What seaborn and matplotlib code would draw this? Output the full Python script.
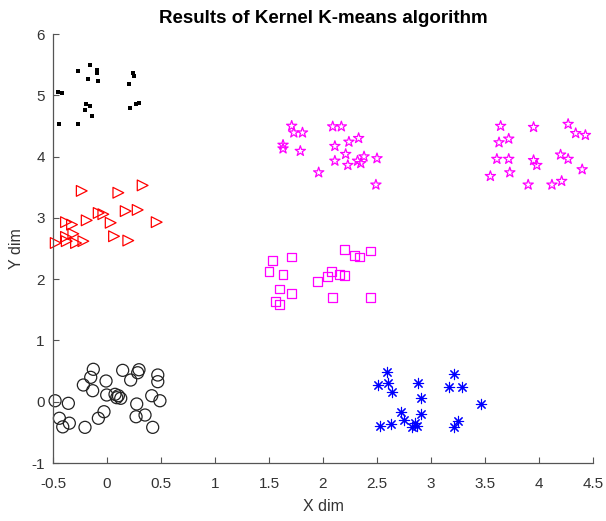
import matplotlib
matplotlib.use("Agg")
import matplotlib.pyplot as plt
import seaborn as sns
import pandas as pd

# Cluster 1: black dots
c1_x = [-0.157, -0.271, -0.09, -0.093, -0.176, -0.083, 0.238, 0.25, 0.20, -0.451,
        -0.417, -0.197, -0.157, -0.207, -0.142, 0.21, 0.266, 0.30, -0.444, -0.271]
c1_y = [5.49, 5.39, 5.41, 5.37, 5.27, 5.23, 5.37, 5.31, 5.18, 5.06,
        5.04, 4.86, 4.82, 4.76, 4.66, 4.80, 4.86, 4.88, 4.53, 4.53]

# Cluster 2: red triangles
c2_x = [-0.234, 0.105, 0.33, -0.38, -0.324, -0.188, -0.077, -0.034, 0.173, 0.284,
        0.46, 0.034, 0.065, 0.197, -0.475, -0.38, -0.373, -0.312, -0.287, -0.219]
c2_y = [3.44, 3.41, 3.53, 2.93, 2.89, 2.96, 3.08, 3.06, 3.11, 3.13,
        2.93, 2.92, 2.70, 2.63, 2.59, 2.69, 2.62, 2.74, 2.59, 2.62]

# Cluster 3: black circles
c3_x = [-0.127, -0.151, -0.219, -0.133, -0.009, 0.145, 0.296, 0.284, 0.219, 0.47,
        0.47, -0.003, 0.074, 0.105, 0.127, 0.09, 0.414, 0.49, 0.275, -0.481,
        -0.358, -0.441, -0.41, -0.349, -0.204, -0.08, -0.028, 0.269, 0.352, 0.423]
c3_y = [0.529, 0.398, 0.273, 0.18, 0.338, 0.512, 0.522, 0.473, 0.354, 0.436,
        0.327, 0.11, 0.121, 0.098, 0.056, 0.066, 0.098, 0.016, -0.037, 0.016,
        -0.026, -0.27, -0.41, -0.35, -0.418, -0.27, -0.163, -0.245, -0.217, -0.418]

# Cluster 4: magenta stars (two groups)
c4_x = [1.71, 1.73, 1.81, 1.63, 1.63, 1.79, 2.09, 2.17, 2.11, 2.24,
        2.33, 2.21, 2.11, 2.23, 2.32, 2.38, 2.35, 2.50, 1.96, 2.49,
        3.645, 3.95, 4.27, 4.34, 4.43, 3.72, 3.63, 3.61, 3.72, 3.95,
        3.98, 4.20, 4.27, 4.40, 3.55, 3.73, 3.90, 4.12, 4.21]
c4_y = [4.50, 4.39, 4.39, 4.19, 4.13, 4.09, 4.49, 4.49, 4.17, 4.24,
        4.30, 4.04, 3.93, 3.86, 3.93, 4.00, 3.89, 3.97, 3.74, 3.54,
        4.498, 4.48, 4.53, 4.38, 4.35, 4.29, 4.23, 3.96, 3.96, 3.94,
        3.86, 4.03, 3.96, 3.79, 3.68, 3.74, 3.54, 3.54, 3.60]

# Cluster 5: magenta squares
c5_x = [1.534, 1.71, 1.50, 1.63, 1.60, 1.71, 1.56, 1.60, 2.20, 2.29,
        2.34, 2.44, 2.08, 2.04, 2.15, 2.20, 1.95, 2.09, 2.44]
c5_y = [2.30, 2.36, 2.12, 2.08, 1.84, 1.77, 1.63, 1.59, 2.49, 2.38,
        2.36, 2.46, 2.12, 2.04, 2.08, 2.06, 1.96, 1.70, 1.70]

# Cluster 6: blue asterisks
c6_x = [2.595, 2.51, 2.60, 2.64, 2.88, 2.91, 2.91, 2.72, 2.75, 2.85,
        2.82, 2.87, 2.53, 2.63, 3.21, 3.17, 3.29, 3.46, 3.25, 3.21]
c6_y = [0.49, 0.27, 0.31, 0.16, 0.31, 0.055, -0.20, -0.17, -0.29, -0.35,
        -0.42, -0.40, -0.40, -0.37, 0.45, 0.245, 0.245, -0.037, -0.31, -0.42]

x_ticks = [-0.5, 0, 0.5, 1, 1.5, 2, 2.5, 3, 3.5, 4, 4.5]
x_tick_labels = ["-0.5", "0", "0.5", "1", "1.5", "2", "2.5", "3", "3.5", "4", "4.5"]
y_ticks = [-1, 0, 1, 2, 3, 4, 5, 6]
y_tick_labels = ["-1", "0", "1", "2", "3", "4", "5", "6"]

sns.set_style("white")
plt.rcParams["font.family"] = ["Liberation Sans", "DejaVu Sans"]

fig = plt.figure(figsize=(6.06, 5.21), dpi=100)
ax = fig.add_axes([0.0875, 0.1113, 0.891, 0.8234])

axis_grey = "#555555"
text_grey = "#333333"

def cluster(xs, ys, marker, color, size, filled=False, lw=0.9):
    df = pd.DataFrame({"x": xs, "y": ys})
    if filled:
        sns.scatterplot(data=df, x="x", y="y", marker=marker, s=size,
                        color=color, edgecolor=color, linewidth=0,
                        clip_on=False, ax=ax)
    else:
        sns.scatterplot(data=df, x="x", y="y", marker=marker, s=size,
                        facecolor="none", edgecolor=color, linewidth=lw,
                        clip_on=False, ax=ax)

cluster(c1_x, c1_y, "s", "black", 5, filled=True)
cluster(c2_x, c2_y, ">", "red", 60)
cluster(c3_x, c3_y, "o", "#222222", 75)
cluster(c4_x, c4_y, "*", "magenta", 60)
cluster(c5_x, c5_y, "s", "magenta", 40)
df6 = pd.DataFrame({"x": c6_x, "y": c6_y})
sns.scatterplot(data=df6, x="x", y="y", marker=(8, 2, 0), s=55,
                color="blue", edgecolor="blue", linewidth=0.8,
                clip_on=False, ax=ax)

ax.set_xlim(-0.5, 4.5)
ax.set_ylim(-1, 6)
ax.set_xticks(x_ticks)
ax.set_xticklabels(x_tick_labels)
ax.set_yticks(y_ticks)
ax.set_yticklabels(y_tick_labels)

for side in ["top", "right"]:
    ax.spines[side].set_visible(False)
for side in ["left", "bottom"]:
    ax.spines[side].set_color(axis_grey)
    ax.spines[side].set_linewidth(0.9)

ax.tick_params(direction="in", length=4, width=0.8, color=axis_grey,
               labelcolor=text_grey, labelsize=11, left=True, bottom=True)
ax.tick_params(axis="x", pad=10)
ax.tick_params(axis="y", pad=6)

ax.set_xlabel("X dim", fontsize=11.5, color=text_grey, labelpad=6)
ax.set_ylabel("Y dim", fontsize=11.5, color=text_grey, labelpad=5)
ax.set_title("Results of Kernel K-means algorithm", fontsize=13.5,
             fontweight="bold", color="black", pad=8)

fig.savefig("out.png", dpi=100)
